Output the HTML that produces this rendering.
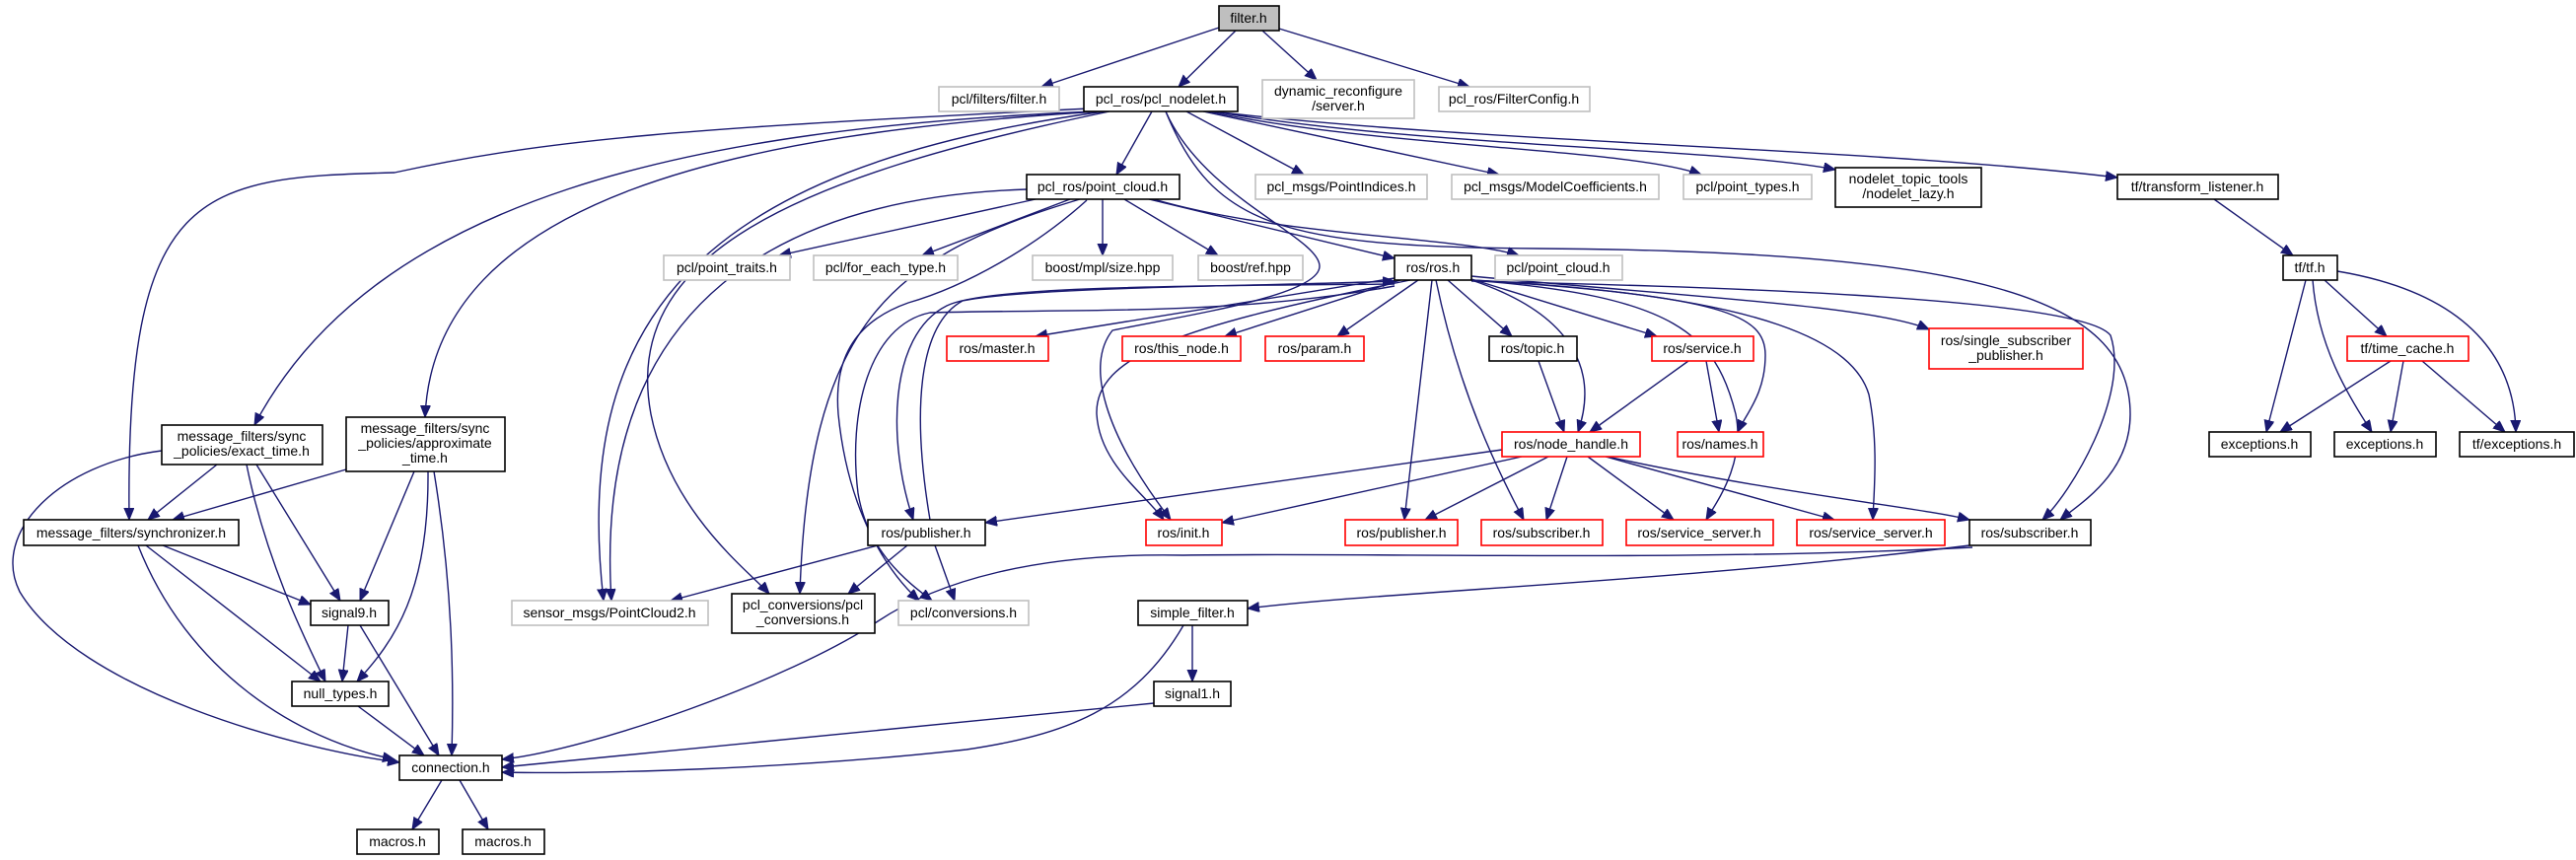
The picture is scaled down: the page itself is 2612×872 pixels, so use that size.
<!DOCTYPE html>
<html><head><meta charset="utf-8"><style>
html,body{margin:0;padding:0;background:#fff;}
svg{display:block;}
text{font-family:"Liberation Sans",sans-serif;font-size:14px;fill:#000;text-anchor:middle;}
.e{fill:none;stroke:#191970;stroke-width:1.4;marker-end:url(#a);}
.k{fill:#fff;stroke:#000;stroke-width:1.6;}
.r{fill:#fff;stroke:#ff0000;stroke-width:1.6;}
.g{fill:#fff;stroke:#bfbfbf;stroke-width:1.6;}
</style></head><body>
<svg width="2612" height="872" viewBox="0 0 2612 872" xmlns="http://www.w3.org/2000/svg">
<defs><marker id="a" markerUnits="userSpaceOnUse" markerWidth="14" markerHeight="12" refX="12" refY="5" orient="auto"><path d="M0,0 L12,5 L0,10 z" fill="#191970" stroke="#191970"/></marker></defs>
<g>
<path class="e" d="M1236,28 L1056,88"/>
<path class="e" d="M1253,31 L1195,88"/>
<path class="e" d="M1280,31 L1335,81"/>
<path class="e" d="M1297,29 L1490,88"/>
<path class="e" d="M1168,113 L1132,177"/>
<path class="e" d="M1203,113 L1322,177"/>
<path class="e" d="M1220,113 L1520,177"/>
<path class="e" d="M1225,113 C1400,150 1650,150 1725,177"/>
<path class="e" d="M1230,113 C1450,150 1750,150 1861,172"/>
<path class="e" d="M1230,113 C1500,145 1900,150 2147,180"/>
<path class="e" d="M1110,113 C700,130 380,200 258,431"/>
<path class="e" d="M1115,113 C750,135 440,200 431,423"/>
<path class="e" d="M1105,110 C700,130 560,140 400,175 C200,180 127,190 131,527"/>
<path class="e" d="M1120,113 C700,170 580,330 612,609"/>
<path class="e" d="M1041,192 C800,200 600,300 620,609"/>
<path class="e" d="M1125,113 C800,180 630,260 660,420 C680,520 760,580 780,602"/>
<path class="e" d="M1095,202 C900,260 820,330 811,602"/>
<path class="e" d="M1182,113 C1230,230 1300,250 1560,252 C2000,255 2160,300 2160,420 C2160,480 2110,510 2089,527"/>
<path class="e" d="M1492,285 C1700,290 2110,300 2140,340 C2160,400 2100,500 2071,527"/>
<path class="e" d="M1050,202 L790,259"/>
<path class="e" d="M1085,202 L935,259"/>
<path class="e" d="M1118,202 L1118,259"/>
<path class="e" d="M1140,202 L1235,259"/>
<path class="e" d="M1165,202 L1414,262"/>
<path class="e" d="M1170,202 C1300,240 1480,240 1540,259"/>
<path class="e" d="M1102,203 C1050,250 980,290 921,307 C870,325 845,360 850,420 C860,520 900,580 932,609"/>
<path class="e" d="M1182,113 C1220,200 1338,240 1338,270 C1338,300 1200,320 1128,335 C1100,370 1120,440 1187,527"/>
<path class="e" d="M1414,288 C1200,290 1000,290 960,310 C900,340 900,450 926,527"/>
<path class="e" d="M943,527 C925,420 930,330 976,305 C1050,290 1300,290 1414,285"/>
<path class="e" d="M1414,290 C1250,320 1100,313 943,317 C880,330 860,420 870,500 C880,560 920,590 945,609"/>
<path class="e" d="M1414,282 L1050,341"/>
<path class="e" d="M1420,284 L1242,341"/>
<path class="e" d="M1438,284 L1356,341"/>
<path class="e" d="M1468,284 L1533,341"/>
<path class="e" d="M1492,283 L1680,341"/>
<path class="e" d="M1492,280 C1700,300 1900,310 1956,334"/>
<path class="e" d="M1492,284 C1600,320 1620,380 1600,438"/>
<path class="e" d="M1492,284 C1750,300 1790,320 1790,360 C1790,400 1770,420 1762,438"/>
<path class="e" d="M1430,284 C1200,330 1110,360 1112,420 C1115,470 1160,500 1180,527"/>
<path class="e" d="M1452,284 L1424,527"/>
<path class="e" d="M1456,284 C1480,400 1520,480 1545,527"/>
<path class="e" d="M1492,284 C1700,300 1740,340 1760,420 C1770,470 1740,510 1730,527"/>
<path class="e" d="M1492,284 C1800,300 1880,350 1895,400 C1905,450 1900,500 1899,527"/>
<path class="e" d="M1560,366 L1586,438"/>
<path class="e" d="M1712,366 L1612,438"/>
<path class="e" d="M1730,366 L1743,438"/>
<path class="e" d="M1523,456 L999,530"/>
<path class="e" d="M1543,463 L1239,530"/>
<path class="e" d="M1570,463 L1445,527"/>
<path class="e" d="M1589,463 L1568,527"/>
<path class="e" d="M1610,463 L1697,527"/>
<path class="e" d="M1628,463 L1860,527"/>
<path class="e" d="M1630,463 C1800,500 1950,515 1997,527"/>
<path class="e" d="M890,553 L680,609"/>
<path class="e" d="M920,553 L860,602"/>
<path class="e" d="M948,553 L968,609"/>
<path class="e" d="M1997,553 C1700,590 1400,600 1265,617"/>
<path class="e" d="M2000,555 C1700,570 1400,560 1200,563 C1050,560 950,590 890,630 C800,690 600,760 509,770"/>
<path class="e" d="M1209,634 L1209,691"/>
<path class="e" d="M1200,634 C1150,720 1080,745 980,760 C800,780 600,785 509,783"/>
<path class="e" d="M1170,713 L509,778"/>
<path class="e" d="M220,471 L150,527"/>
<path class="e" d="M260,471 L345,609"/>
<path class="e" d="M250,471 C270,570 310,650 330,691"/>
<path class="e" d="M164,457 C60,470 -10,540 20,600 C80,700 300,760 405,773"/>
<path class="e" d="M351,476 L175,527"/>
<path class="e" d="M420,478 L365,609"/>
<path class="e" d="M434,478 C435,600 400,650 362,691"/>
<path class="e" d="M440,478 C460,600 460,700 458,766"/>
<path class="e" d="M165,553 L315,613"/>
<path class="e" d="M148,553 L325,691"/>
<path class="e" d="M140,553 C190,680 300,750 400,770"/>
<path class="e" d="M353,634 L347,691"/>
<path class="e" d="M365,634 L445,766"/>
<path class="e" d="M363,716 L430,766"/>
<path class="e" d="M448,791 L418,841"/>
<path class="e" d="M466,791 L495,841"/>
<path class="e" d="M2245,202 L2325,259"/>
<path class="e" d="M2338,284 L2298,438"/>
<path class="e" d="M2345,284 C2350,350 2380,400 2405,438"/>
<path class="e" d="M2357,284 L2420,341"/>
<path class="e" d="M2370,275 C2520,300 2550,380 2551,438"/>
<path class="e" d="M2424,366 L2312,438"/>
<path class="e" d="M2437,366 L2424,438"/>
<path class="e" d="M2456,366 L2540,438"/>
</g>
<g>
<rect x="1236" y="6" width="61" height="25" fill="#bfbfbf" stroke="#000" stroke-width="1.6"/><text x="1266" y="23">filter.h</text>
<rect class="g" x="952" y="88" width="122" height="25"/><text x="1013" y="105">pcl/filters/filter.h</text>
<rect class="k" x="1099" y="88" width="156" height="25"/><text x="1177" y="105">pcl_ros/pcl_nodelet.h</text>
<rect class="g" x="1280" y="81" width="154" height="39"/><text x="1357" y="97">dynamic_reconfigure</text><text x="1357" y="112">/server.h</text>
<rect class="g" x="1459" y="88" width="153" height="25"/><text x="1535" y="105">pcl_ros/FilterConfig.h</text>
<rect class="k" x="1041" y="177" width="155" height="25"/><text x="1118" y="194">pcl_ros/point_cloud.h</text>
<rect class="g" x="1273" y="177" width="174" height="25"/><text x="1360" y="194">pcl_msgs/PointIndices.h</text>
<rect class="g" x="1472" y="177" width="210" height="25"/><text x="1577" y="194">pcl_msgs/ModelCoefficients.h</text>
<rect class="g" x="1707" y="177" width="130" height="25"/><text x="1772" y="194">pcl/point_types.h</text>
<rect class="k" x="1861" y="170" width="148" height="40"/><text x="1935" y="186">nodelet_topic_tools</text><text x="1935" y="201">/nodelet_lazy.h</text>
<rect class="k" x="2147" y="177" width="163" height="25"/><text x="2228" y="194">tf/transform_listener.h</text>
<rect class="g" x="673" y="259" width="128" height="25"/><text x="737" y="276">pcl/point_traits.h</text>
<rect class="g" x="825" y="259" width="146" height="25"/><text x="898" y="276">pcl/for_each_type.h</text>
<rect class="g" x="1047" y="259" width="142" height="25"/><text x="1118" y="276">boost/mpl/size.hpp</text>
<rect class="g" x="1215" y="259" width="106" height="25"/><text x="1268" y="276">boost/ref.hpp</text>
<rect class="k" x="1414" y="259" width="78" height="25"/><text x="1453" y="276">ros/ros.h</text>
<rect class="g" x="1516" y="259" width="129" height="25"/><text x="1580" y="276">pcl/point_cloud.h</text>
<rect class="k" x="2315" y="259" width="55" height="25"/><text x="2342" y="276">tf/tf.h</text>
<rect class="r" x="960" y="341" width="103" height="25"/><text x="1011" y="358">ros/master.h</text>
<rect class="r" x="1138" y="341" width="120" height="25"/><text x="1198" y="358">ros/this_node.h</text>
<rect class="r" x="1283" y="341" width="100" height="25"/><text x="1333" y="358">ros/param.h</text>
<rect class="k" x="1510" y="341" width="89" height="25"/><text x="1554" y="358">ros/topic.h</text>
<rect class="r" x="1675" y="341" width="103" height="25"/><text x="1726" y="358">ros/service.h</text>
<rect class="r" x="1956" y="333" width="156" height="41"/><text x="2034" y="350">ros/single_subscriber</text><text x="2034" y="365">_publisher.h</text>
<rect class="r" x="2380" y="341" width="123" height="25"/><text x="2441" y="358">tf/time_cache.h</text>
<rect class="k" x="164" y="431" width="163" height="40"/><text x="245" y="447">message_filters/sync</text><text x="245" y="462">_policies/exact_time.h</text>
<rect class="k" x="351" y="423" width="161" height="55"/><text x="431" y="439">message_filters/sync</text><text x="431" y="454">_policies/approximate</text><text x="431" y="469">_time.h</text>
<rect class="r" x="1523" y="438" width="140" height="25"/><text x="1593" y="455">ros/node_handle.h</text>
<rect class="r" x="1701" y="438" width="87" height="25"/><text x="1744" y="455">ros/names.h</text>
<rect class="k" x="2240" y="438" width="103" height="25"/><text x="2291" y="455">exceptions.h</text>
<rect class="k" x="2367" y="438" width="103" height="25"/><text x="2418" y="455">exceptions.h</text>
<rect class="k" x="2494" y="438" width="116" height="25"/><text x="2552" y="455">tf/exceptions.h</text>
<rect class="k" x="24" y="527" width="218" height="26"/><text x="133" y="545">message_filters/synchronizer.h</text>
<rect class="k" x="880" y="527" width="119" height="26"/><text x="939" y="545">ros/publisher.h</text>
<rect class="r" x="1162" y="527" width="77" height="26"/><text x="1200" y="545">ros/init.h</text>
<rect class="r" x="1364" y="527" width="114" height="26"/><text x="1421" y="545">ros/publisher.h</text>
<rect class="r" x="1502" y="527" width="123" height="26"/><text x="1563" y="545">ros/subscriber.h</text>
<rect class="r" x="1649" y="527" width="149" height="26"/><text x="1723" y="545">ros/service_server.h</text>
<rect class="r" x="1822" y="527" width="150" height="26"/><text x="1897" y="545">ros/service_server.h</text>
<rect class="k" x="1997" y="527" width="123" height="26"/><text x="2058" y="545">ros/subscriber.h</text>
<rect class="k" x="315" y="609" width="79" height="25"/><text x="354" y="626">signal9.h</text>
<rect class="g" x="519" y="609" width="199" height="25"/><text x="618" y="626">sensor_msgs/PointCloud2.h</text>
<rect class="k" x="742" y="602" width="145" height="40"/><text x="814" y="618">pcl_conversions/pcl</text><text x="814" y="633">_conversions.h</text>
<rect class="g" x="911" y="609" width="132" height="25"/><text x="977" y="626">pcl/conversions.h</text>
<rect class="k" x="1154" y="609" width="111" height="25"/><text x="1209" y="626">simple_filter.h</text>
<rect class="k" x="296" y="691" width="98" height="25"/><text x="345" y="708">null_types.h</text>
<rect class="k" x="1170" y="691" width="78" height="25"/><text x="1209" y="708">signal1.h</text>
<rect class="k" x="405" y="766" width="104" height="25"/><text x="457" y="783">connection.h</text>
<rect class="k" x="362" y="841" width="83" height="25"/><text x="403" y="858">macros.h</text>
<rect class="k" x="469" y="841" width="83" height="25"/><text x="510" y="858">macros.h</text>
</g>
</svg>
</body></html>
